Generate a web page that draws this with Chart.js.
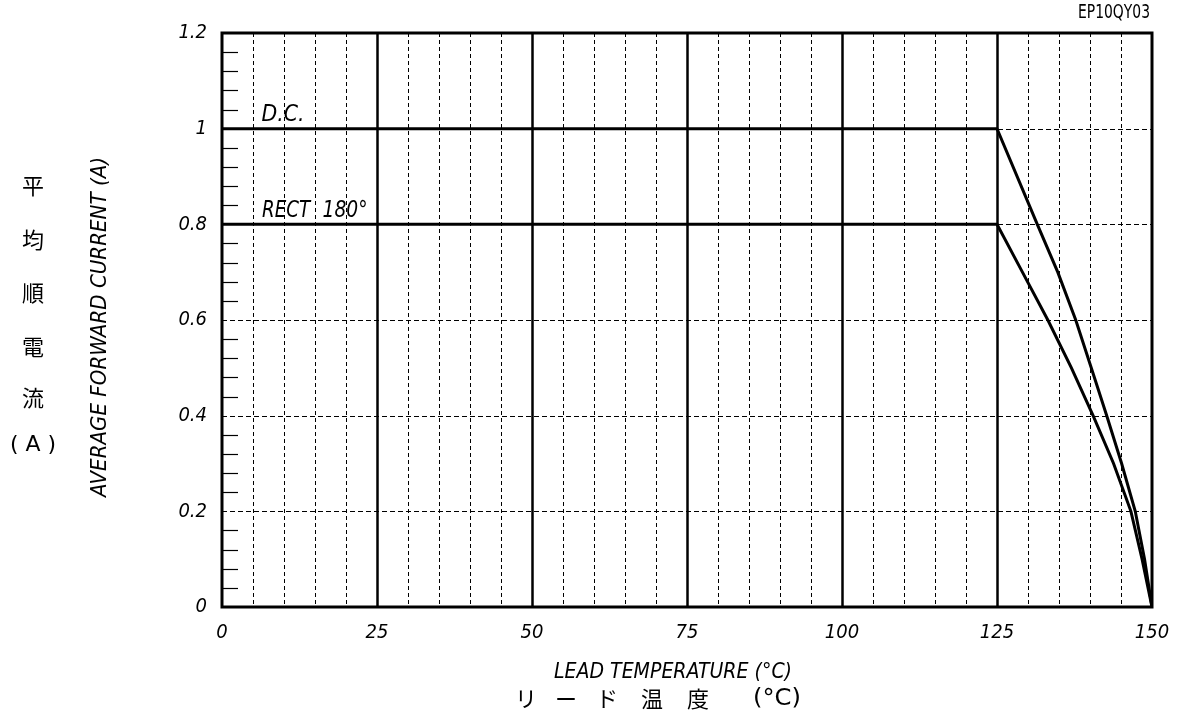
<!DOCTYPE html>
<html>
<head>
<meta charset="utf-8">
<script src="https://cdn.jsdelivr.net/npm/chart.js@4.4.1/dist/chart.umd.min.js"></script>
<style>
  html, body { margin: 0; padding: 0; background: #fff; }
  #wrap { width: 1180px; height: 721px; }
</style>
</head>
<body>
<div id="wrap"><canvas id="chart" width="1180" height="721"></canvas></div>
<script>
// data
const dcTemp = [0, 125, 131.5, 134.8, 137.7, 140.2, 142.7, 145.1, 147.3, 148.8, 150];
const dcCurrent = [1, 1, 0.8, 0.7, 0.6, 0.5, 0.4, 0.3, 0.2, 0.1, 0];
const rectTemp = [0, 125, 129.1, 133.2, 137.0, 140.5, 143.8, 146.6, 148.4, 150];
const rectCurrent = [0.8, 0.8, 0.7, 0.6, 0.5, 0.4, 0.3, 0.2, 0.1, 0];

const xTicks = [0, 25, 50, 75, 100, 125, 150];
const yTicks = [0, 0.2, 0.4, 0.6, 0.8, 1, 1.2];
const yTickLabels = ['0', '0.2', '0.4', '0.6', '0.8', '1', '1.2'];

const latin = '"DejaVu Sans Condensed", "DejaVu Sans", sans-serif';
const cjk = '"Noto Sans CJK JP", "Noto Sans CJK SC", sans-serif';

function toPoints(xs, ys) {
    return xs.map((x, i) => ({ x: x, y: ys[i] }));
}

// text squeezed to a given width
function fitText(ctx, text, cx, cy, width) {
    const w = ctx.measureText(text).width;
    ctx.save();
    ctx.translate(cx, cy);
    ctx.scale(width / w, 1);
    ctx.textAlign = 'center';
    ctx.textBaseline = 'middle';
    ctx.fillText(text, 0, 0);
    ctx.restore();
}

// grid: dashed every 5 deg, solid every 25 deg, minor ticks on the left
const gridPlugin = {
    id: 'grid',
    beforeDatasetsDraw(chart) {
        const { ctx, chartArea: a, scales: { x, y } } = chart;
        ctx.save();
        ctx.strokeStyle = '#000';
        for (let t = 5; t < 150; t += 5) {
            const px = Math.round(x.getPixelForValue(t)) + 0.5;
            ctx.beginPath();
            if (t % 25 === 0) {
                ctx.setLineDash([]);
                ctx.lineWidth = 2.5;
            } else {
                ctx.setLineDash([4, 3]);
                ctx.lineWidth = 1;
            }
            ctx.moveTo(px, a.top);
            ctx.lineTo(px, a.bottom);
            ctx.stroke();
        }
        ctx.setLineDash([5, 3]);
        ctx.lineWidth = 1;
        yTicks.slice(1, -1).forEach(v => {
            const py = Math.round(y.getPixelForValue(v)) + 0.5;
            ctx.beginPath();
            ctx.moveTo(a.left, py);
            ctx.lineTo(a.right, py);
            ctx.stroke();
        });
        ctx.setLineDash([]);
        ctx.lineWidth = 1.2;
        for (let i = 1; i < 30; i++) {
            if (i % 5 === 0) continue;
            const py = Math.round(y.getPixelForValue(i * 0.04)) + 0.5;
            ctx.beginPath();
            ctx.moveTo(a.left, py);
            ctx.lineTo(a.left + 16, py);
            ctx.stroke();
        }
        ctx.restore();
    },
    afterDatasetsDraw(chart) {
        const { ctx, chartArea: a } = chart;
        ctx.save();
        ctx.strokeStyle = '#000';
        ctx.lineWidth = 3;
        ctx.strokeRect(a.left, a.top, a.right - a.left, a.bottom - a.top);
        ctx.restore();
    }
};

// labels and titles
const textPlugin = {
    id: 'texts',
    afterDraw(chart) {
        const { ctx } = chart;
        ctx.save();
        ctx.fillStyle = '#000';

        ctx.font = '19px ' + latin;
        fitText(ctx, 'EP10QY03', 1114, 13, 72);

        ctx.font = 'italic 23px ' + latin;
        fitText(ctx, 'D.C.', 283, 115, 43);
        fitText(ctx, 'RECT', 286, 211, 48);
        fitText(ctx, '180°', 345, 211, 45);

        ctx.font = 'italic 22px ' + latin;
        fitText(ctx, 'LEAD TEMPERATURE (°C)', 673, 672, 238);

        ctx.save();
        ctx.translate(100, 327);
        ctx.rotate(-Math.PI / 2);
        fitText(ctx, 'AVERAGE FORWARD CURRENT (A)', 0, 0, 340);
        ctx.restore();

        ctx.font = '22px ' + cjk;
        ctx.textAlign = 'center';
        ctx.textBaseline = 'middle';
        const jpX = ['リ', 'ー', 'ド', '温', '度'];
        const jpXPos = [526, 566, 607, 652, 698];
        jpX.forEach((c, i) => ctx.fillText(c, jpXPos[i], 699));
        ctx.font = '23px ' + latin;
        fitText(ctx, '(°C)', 777, 699, 48);

        ctx.font = '22px ' + cjk;
        const jpY = ['平', '均', '順', '電', '流'];
        const jpYPos = [186, 240, 293, 347, 398];
        jpY.forEach((c, i) => ctx.fillText(c, 33, jpYPos[i]));
        ctx.font = '22px ' + latin;
        fitText(ctx, '( A )', 33, 445, 46);

        ctx.restore();
    }
};

const ctx = document.getElementById('chart').getContext('2d');
new Chart(ctx, {
    type: 'scatter',
    data: {
        datasets: [
            {
                label: 'D.C.',
                data: toPoints(dcTemp, dcCurrent),
                showLine: true,
                borderColor: '#000',
                borderWidth: 3,
                pointRadius: 0,
                tension: 0
            },
            {
                label: 'RECT 180°',
                data: toPoints(rectTemp, rectCurrent),
                showLine: true,
                borderColor: '#000',
                borderWidth: 3,
                pointRadius: 0,
                tension: 0
            }
        ]
    },
    options: {
        responsive: false,
        animation: false,
        layout: { padding: { top: 33, right: 28, left: 0, bottom: 0 } },
        plugins: {
            legend: { display: false },
            tooltip: { enabled: false }
        },
        scales: {
            x: {
                type: 'linear',
                min: 0,
                max: 150,
                afterBuildTicks: s => { s.ticks = xTicks.map(v => ({ value: v })); },
                afterFit: s => { s.height = 114; s.paddingRight = 0; s.paddingLeft = 0; },
                grid: { display: false, drawTicks: false },
                border: { display: false },
                ticks: {
                    color: '#000',
                    padding: 14,
                    font: { family: latin, size: 20, style: 'italic' },
                    callback: v => String(v)
                }
            },
            y: {
                type: 'linear',
                min: 0,
                max: 1.2,
                afterBuildTicks: s => { s.ticks = yTicks.map(v => ({ value: v })); },
                afterFit: s => { s.width = 222; s.paddingTop = 0; s.paddingBottom = 0; },
                grid: { display: false, drawTicks: false },
                border: { display: false },
                ticks: {
                    color: '#000',
                    padding: 15,
                    font: { family: latin, size: 20, style: 'italic' },
                    callback: (v, i) => yTickLabels[i]
                }
            }
        }
    },
    plugins: [gridPlugin, textPlugin]
});
</script>
</body>
</html>
